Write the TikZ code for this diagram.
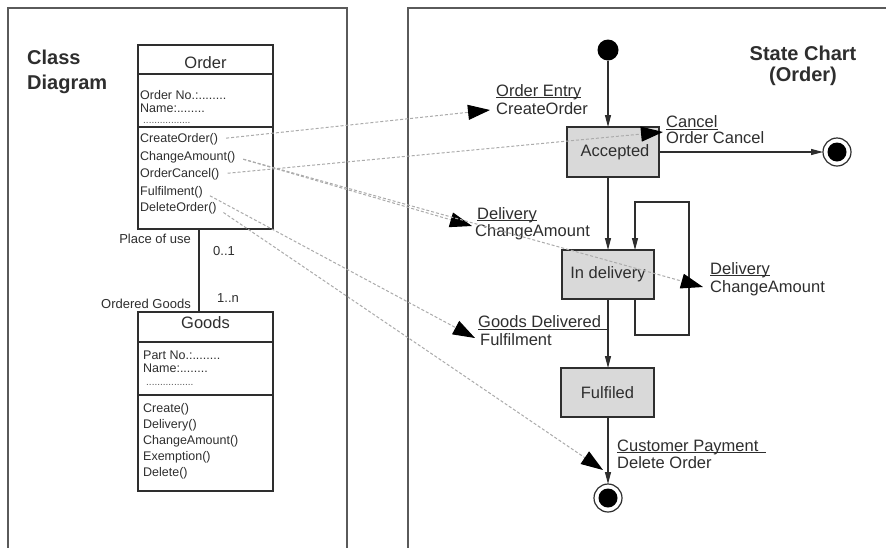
\documentclass[tikz,border=0pt]{standalone}
\usepackage{fontspec}
\setmainfont{Liberation Sans}
\usetikzlibrary{arrows.meta}
\definecolor{ink}{HTML}{2E2E2E}
\definecolor{framegray}{HTML}{5A5A5A}
\definecolor{statefill}{HTML}{D9D9D9}
\definecolor{traceline}{HTML}{ABABAB}
% event name with a thin rule just under the baseline; optional extra rule length
\newcommand{\evt}[2][0pt]{\setbox0\hbox{#2}\rlap{\rule[-2pt]{\dimexpr\wd0+#1\relax}{0.9pt}}#2}

\begin{document}
\begin{tikzpicture}[x=1pt,y=-1pt,
  panel/.style={draw=framegray, line width=1.5pt},
  classbox/.style={draw=ink, line width=1.4pt, outer sep=0pt, inner sep=0pt, anchor=north west},
  classline/.style={draw=ink, line width=1.4pt},
  classtitle/.style={inner sep=0pt, text=ink, font=\fontsize{16.5}{18}\selectfont},
  member/.style={anchor=west, inner sep=0pt, text=ink, font=\fontsize{12.5}{14}\selectfont},
  filler/.style={anchor=base west, inner sep=0pt, text=ink!80, font=\fontsize{10}{12}\selectfont},
  assoclabel/.style={inner sep=0pt, text=ink, font=\fontsize{13}{15}\selectfont},
  heading/.style={inner sep=0pt, text=ink, font=\fontsize{20}{24}\selectfont\bfseries},
  statebox/.style={draw=ink, line width=1.3pt, fill=statefill, outer sep=0pt, inner sep=0pt,
    anchor=north west, text=ink, font=\fontsize{16.5}{18}\selectfont},
  tlabel/.style={anchor=west, inner sep=0pt, text=ink, font=\fontsize{16.5}{18}\selectfont},
  trans/.style={draw=ink, line width=1.2pt, -{Triangle[length=12pt,width=6pt]}},
  trace/.style={draw=traceline, line width=1pt, dash pattern=on 3pt off 2pt,
    shorten <=8pt, -{Triangle[length=22pt,width=15pt,color=black]}},
  initdot/.style={circle, fill=black, inner sep=0pt, minimum size=21pt, outer sep=0pt},
  endouter/.style={circle, draw=ink, line width=1.2pt, fill=white, inner sep=0pt, minimum size=28pt, outer sep=0pt},
  endinner/.style={circle, fill=black, inner sep=0pt, minimum size=19pt}
]
\clip (0,0) rectangle (886,547);
\fill[white] (0,0) rectangle (886,547);

% ---------- frames ----------
\draw[panel] (8,560) -- (8,8) -- (347,8) -- (347,560);
\draw[panel] (408,560) -- (408,8) -- (900,8);

% ---------- class diagram ----------
\node[heading, anchor=west] (hclass) at (27,57) {Class};
\node[heading, anchor=west] (hdiag) at (27,84) {Diagram};

% Order class
\node[classbox, minimum width=135pt, minimum height=184pt] (order) at (138,45) {};
\node[classtitle] (ordertitle) at (205.5,63) {Order};
\draw[classline] (138,74) -- (273,74);
\draw[classline] (138,127) -- (273,127);
\node[member] (oa1) at (140,95) {Order No.:........};
\node[member] (oa2) at (140,108) {Name:........};
\node[filler] (oa3) at (143,123) {.................};
\node[member] (m1) at (140,139) {CreateOrder()};
\node[member] (m2) at (140,157) {ChangeAmount()};
\node[member] (m3) at (140,174) {OrderCancel()};
\node[member] (m4) at (140,192) {Fulfilment()};
\node[member] (m5) at (140,208) {DeleteOrder()};

% Goods class
\node[classbox, minimum width=135pt, minimum height=179pt] (goods) at (138,312) {};
\node[classtitle] (goodstitle) at (205.5,323) {Goods};
\draw[classline] (138,342) -- (273,342);
\draw[classline] (138,395) -- (273,395);
\node[member] (ga1) at (143,355) {Part No.:........};
\node[member] (ga2) at (143,368) {Name:........};
\node[filler] (ga3) at (146,385) {.................};
\node[member] (g1) at (143,409) {Create()};
\node[member] (g2) at (143,425) {Delivery()};
\node[member] (g3) at (143,441) {ChangeAmount()};
\node[member] (g4) at (143,457) {Exemption()};
\node[member] (g5) at (143,473) {Delete()};

% association
\draw[classline] ([xshift=-6.5pt]order.south) -- ([xshift=-6.5pt]goods.north);
\node[assoclabel, anchor=east] (use) at (191,239) {Place of use};
\node[assoclabel, anchor=west] (mul1) at (213,251) {0..1};
\node[assoclabel, anchor=west] (muln) at (217,298) {1..n};
\node[assoclabel, anchor=east] (og) at (191,304) {Ordered Goods};

% ---------- state chart ----------
\node[heading] (hstate) at (803,53) {State Chart};
\node[heading] (horder) at (803,76) {(Order)};

\node[initdot] (init) at (608,50) {};
\node[statebox, minimum width=92pt, minimum height=50pt] (accepted) at (567,127) {\hspace*{4pt}Accepted};
\node[statebox, minimum width=92pt, minimum height=49pt] (indelivery) at (562,250) {In delivery};
\node[statebox, minimum width=93pt, minimum height=49pt] (fulfiled) at (561,368) {Fulfiled};
\node[endouter] (fin1) at (837,152) {};
\node[endinner] (fin1dot) at (fin1) {};
\node[endouter] (fin2) at (608,498) {};
\node[endinner] (fin2dot) at (fin2) {};

\draw[trans] (init) -- (init |- accepted.north);
\draw[trans] (init |- accepted.south) -- (init |- indelivery.north);
\draw[trans] (init |- indelivery.south) -- (init |- fulfiled.north);
\draw[trans] (init |- fulfiled.south) -- (fin2.north);
\draw[trans] (accepted.east) -- (fin1.west);
\coordinate (loopout) at ([xshift=27pt]indelivery.south);
\coordinate (loopin) at ([xshift=27pt]indelivery.north);
\coordinate (loopcorner) at (689,202);
\draw[trans] (loopout) -- ++(0,36) -| (loopcorner) -| (loopin);

% transition labels
\node[tlabel] (entry) at (496,92) {\evt{Order Entry}};
\node[tlabel] (entryop) at (496,109) {CreateOrder};
\node[tlabel] (cancel) at (666,123) {\evt{Cancel}};
\node[tlabel] (cancelop) at (666,138) {Order Cancel};
\node[tlabel] (deliv1) at (477,215) {\evt{Delivery}};
\node[tlabel] (deliv1op) at (475,232) {ChangeAmount};
\node[tlabel] (deliv2) at (710,270) {\evt{Delivery}};
\node[tlabel] (deliv2op) at (710,288) {ChangeAmount};
\node[tlabel] (gooddel) at (478,323) {\evt[6pt]{Goods Delivered}};
\node[tlabel] (gooddelop) at (480,340) {Fulfilment};
\node[tlabel] (pay) at (617,447) {\evt[8pt]{Customer Payment}};
\node[tlabel] (payop) at (617,463) {Delete Order};

% ---------- operation traces ----------
\coordinate (tipEntry) at (490,110);
\coordinate (tipCancel) at (663,132);
\coordinate (tipDelivA) at (472,226);
\coordinate (tipDelivB) at (703,287);
\coordinate (tipFulfil) at (475,338);
\coordinate (tipDelete) at (603,470);
\draw[trace] (m1.east) -- (tipEntry);
\draw[trace] (m3.east) -- (tipCancel);
\draw[trace] (m2.east) -- (tipDelivA);
\draw[trace] (m2.east) -- (tipDelivB);
\draw[trace] (m4.east) -- (tipFulfil);
\draw[trace] (m5.east) -- (tipDelete);
\end{tikzpicture}
\end{document}
